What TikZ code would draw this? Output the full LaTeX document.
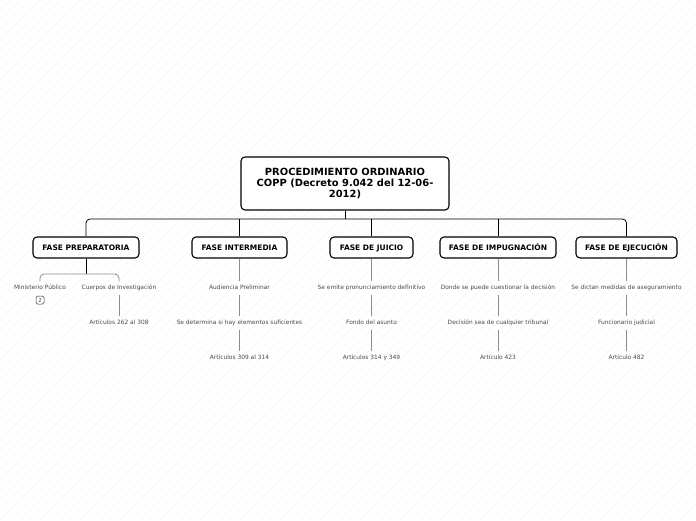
\documentclass[tikz,border=0pt]{standalone}
\usepackage{fontspec}
\setmainfont{DejaVu Sans}
\definecolor{linegray}{HTML}{8C8C8C}
\definecolor{subtext}{HTML}{4A4A4A}
\definecolor{hatch}{HTML}{F0F0F0}
\tikzset{
  rootbox/.style={draw=black, line width=1.1pt, rounded corners=4pt, fill=white,
    minimum width=208pt, minimum height=53pt, align=center, inner sep=0pt,
    font=\fontsize{9.9}{11.4}\selectfont\bfseries},
  phasebox/.style={draw=black, line width=1.1pt, rounded corners=4pt, fill=white,
    minimum height=21pt, inner sep=0pt, text height=5.5pt, text depth=0pt,
    font=\fontsize{7.5}{9}\selectfont\bfseries},
  subitem/.style={text=subtext, minimum height=13pt, inner sep=0pt,
    text height=4.4pt, text depth=1.2pt, font=\fontsize{5.9}{7}\selectfont},
  treeline/.style={draw=black, line width=0.8pt},
  subline/.style={draw=linegray, line width=0.8pt},
  badge/.style={draw=black!80, line width=0.5pt, rounded corners=1.5pt, minimum width=8pt,
    minimum height=8pt, inner sep=0pt, font=\fontsize{5.5}{6}\selectfont, text=subtext}
}
\begin{document}
\begin{tikzpicture}[x=1pt,y=-1pt]
\useasboundingbox (0,0) rectangle (696,520);
\fill[white] (0,0) rectangle (696,520);
\begin{scope}
\clip (0,0) rectangle (696,520);
\foreach \i in {0,10,...,1230}{
  \draw[hatch, line width=0.5pt, dash pattern=on 1pt off 1pt] (\i-520,520) -- (\i,0);
}
\end{scope}

\node[rootbox] (root) at (345,183.5) {PROCEDIMIENTO ORDINARIO\\COPP (Decreto 9.042 del 12-06-\\2012)};

\node[phasebox, minimum width=106pt] (p1) at (86,247.5) {FASE PREPARATORIA};
\node[phasebox, minimum width=95pt] (p2) at (239.5,247.5) {FASE INTERMEDIA};
\node[phasebox, minimum width=83pt] (p3) at (371.5,247.5) {FASE DE JUICIO};
\node[phasebox, minimum width=116pt] (p4) at (498,247.5) {FASE DE IMPUGNACIÓN};
\node[phasebox, minimum width=101pt] (p5) at (626.5,247.5) {FASE DE EJECUCIÓN};

\coordinate (bar) at (345,219);
\draw[treeline] (root.south) -- (bar);
\draw[treeline, rounded corners=4pt] (p1.north) -- (p1.north |- bar) -- (p5.north |- bar) -- (p5.north);
\draw[treeline] (p2.north |- bar) -- (p2.north);
\draw[treeline] (p3.north |- bar) -- (p3.north);
\draw[treeline] (p4.north |- bar) -- (p4.north);

% Fase preparatoria
\node[subitem] (a1) at (40,288) {Ministerio Público};
\node[badge] (a1b) at (40,300) {2};
\node[subitem] (a2) at (119,288) {Cuerpos de Investigación};
\node[subitem] (a3) at (119,323) {Artículos 262 al 308};
\coordinate (bar2) at (86,274);
\draw[treeline] (p1.south) -- (bar2);
\draw[subline, rounded corners=4pt] (a1.north) -- (a1.north |- bar2) -- (a2.north |- bar2) -- (a2.north);
\draw[subline] (a2.south) -- (a3.north);

% Fase intermedia
\node[subitem] (b1) at (239.5,288) {Audiencia Preliminar};
\node[subitem] (b2) at (239.5,323) {Se determina si hay elementos suficientes};
\node[subitem] (b3) at (239.5,357.5) {Artículos 309 al 314};
\draw[subline] (p2.south) -- (b1.north);
\draw[subline] (b1.south) -- (b2.north);
\draw[subline] (b2.south) -- (b3.north);

% Fase de juicio
\node[subitem] (c1) at (371.5,288) {Se emite pronunciamiento definitivo};
\node[subitem] (c2) at (371.5,323) {Fondo del asunto};
\node[subitem] (c3) at (371.5,357.5) {Artículos 314 y 349};
\draw[subline] (p3.south) -- (c1.north);
\draw[subline] (c1.south) -- (c2.north);
\draw[subline] (c2.south) -- (c3.north);

% Fase de impugnacion
\node[subitem] (d1) at (498,288) {Donde se puede cuestionar la decisión};
\node[subitem] (d2) at (498,323) {Decisión sea de cualquier tribunal};
\node[subitem] (d3) at (498,357.5) {Artículo 423};
\draw[subline] (p4.south) -- (d1.north);
\draw[subline] (d1.south) -- (d2.north);
\draw[subline] (d2.south) -- (d3.north);

% Fase de ejecucion
\node[subitem] (e1) at (626.5,288) {Se dictan medidas de aseguramiento};
\node[subitem] (e2) at (626.5,323) {Funcionario judicial};
\node[subitem] (e3) at (626.5,357.5) {Artículo 482};
\draw[subline] (p5.south) -- (e1.north);
\draw[subline] (e1.south) -- (e2.north);
\draw[subline] (e2.south) -- (e3.north);
\end{tikzpicture}
\end{document}
